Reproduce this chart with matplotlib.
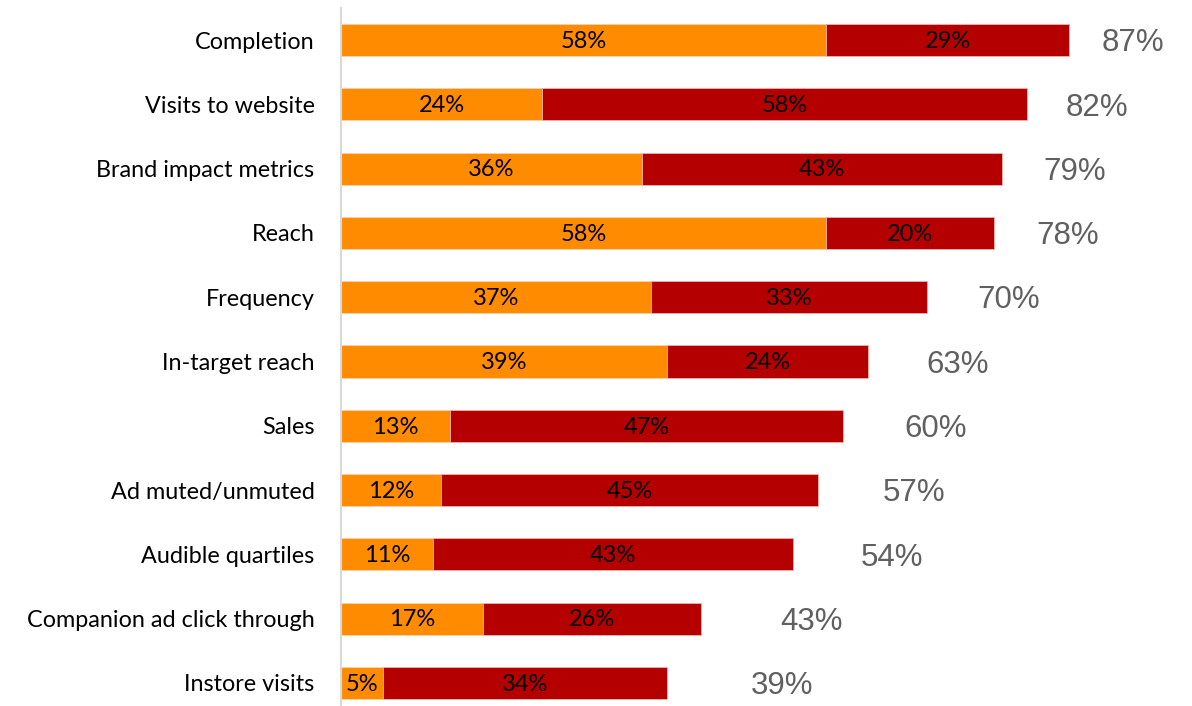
import matplotlib.pyplot as plt
import numpy as np

# data
categories = ['Completion', 'Visits to website', 'Brand impact metrics', 'Reach',
              'Frequency', 'In-target reach', 'Sales', 'Ad muted/unmuted',
              'Audible quartiles', 'Companion ad click through', 'Instore visits']
first_part = [58, 24, 36, 58, 37, 39, 13, 12, 11, 17, 5]
second_part = [29, 58, 43, 20, 33, 24, 47, 45, 43, 26, 34]
totals = [87, 82, 79, 78, 70, 63, 60, 57, 54, 43, 39]

orange = '#FF8C00'
red = '#B50000'

fig = plt.figure(figsize=(11.92, 7.06), dpi=100)
ax = fig.add_axes([341 / 1192, -9 / 706, 851 / 1192, 707 / 706])

y = np.arange(len(categories))
bars1 = ax.barh(y, first_part, height=0.5, color=orange, edgecolor='#FBD3B0', linewidth=0.6)
bars2 = ax.barh(y, second_part, left=first_part, height=0.5, color=red, edgecolor='#F0B0B0', linewidth=0.6)

font = 'Lato'
for b, v in zip(bars1, first_part):
    ax.text(b.get_x() + b.get_width() / 2, b.get_y() + b.get_height() / 2 + 0.02, f'{v}%',
            ha='center', va='center', fontsize=17, family=font, color='black')
for b, v in zip(bars2, second_part):
    ax.text(b.get_x() + b.get_width() / 2, b.get_y() + b.get_height() / 2 + 0.02, f'{v}%',
            ha='center', va='center', fontsize=17, family=font, color='black')

# total labels sit a bit further out on shorter bars
for i, t in enumerate(totals):
    ax.text(14.95 + 0.873 * t, i + 0.05, f'{t}%', ha='left', va='center',
            fontsize=22.5, family='Liberation Sans', color='#606060')

ax.set_yticks(y)
ax.set_yticklabels(categories, fontsize=16.8, family=font)
ax.tick_params(axis='y', length=0, pad=19)
ax.set_xticks([])
ax.set_xlim(0, 851 / 8.37)
ax.set_ylim(len(categories) - 0.5, -0.5)
for s in ['top', 'right', 'bottom']:
    ax.spines[s].set_visible(False)
ax.spines['left'].set_color('#D9D9D9')
ax.spines['left'].set_linewidth(1.5)

fig.savefig('out.png', dpi=100)
